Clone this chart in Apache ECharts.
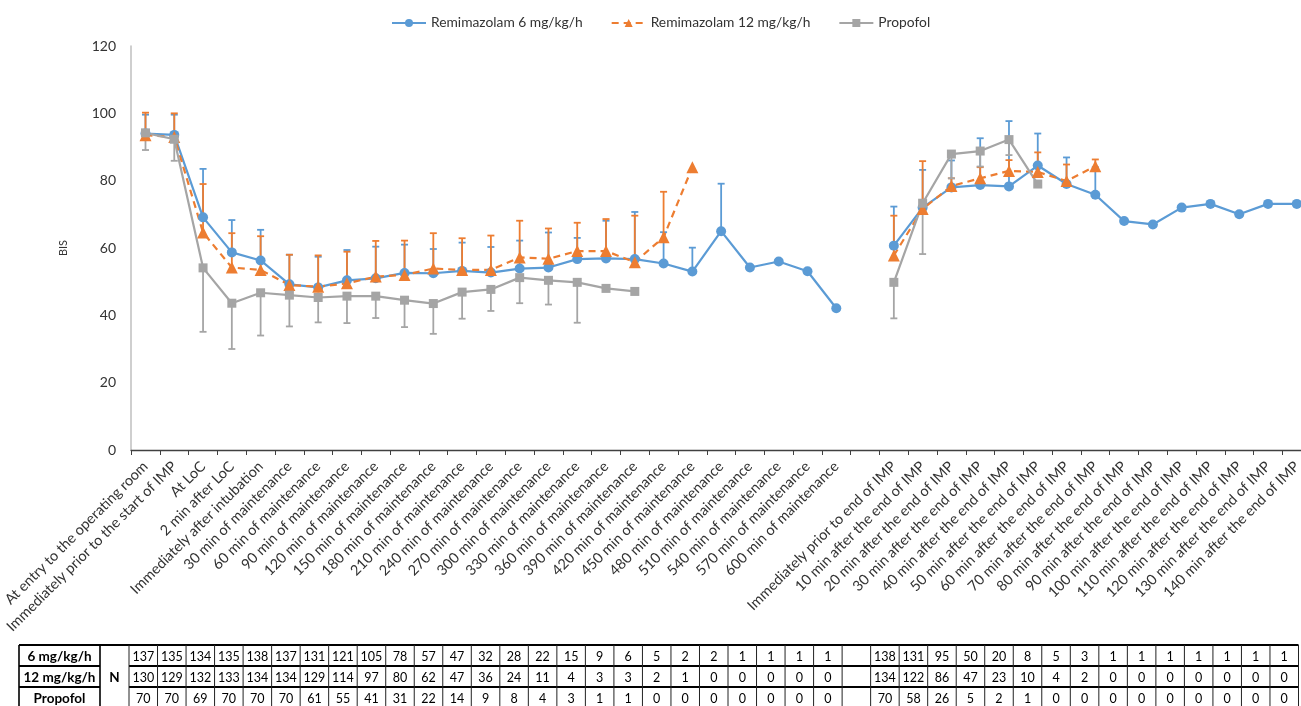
<!DOCTYPE html>
<html>
<head>
<meta charset="utf-8">
<script src="https://cdn.jsdelivr.net/npm/echarts@6/dist/echarts.min.js"></script>
<style>
html,body{margin:0;padding:0;background:#fff;overflow:hidden;}
#chart{width:1320px;height:706px;}
</style>
</head>
<body>
<div id="chart"></div>
<script>
const categories = [
  "At entry to the operating room",
  "Immediately prior to the start of IMP",
  "At LoC",
  "2 min after LoC",
  "Immediately after intubation",
  "30 min of maintenance",
  "60 min of maintenance",
  "90 min of maintenance",
  "120 min of maintenance",
  "150 min of maintenance",
  "180 min of maintenance",
  "210 min of maintenance",
  "240 min of maintenance",
  "270 min of maintenance",
  "300 min of maintenance",
  "330 min of maintenance",
  "360 min of maintenance",
  "390 min of maintenance",
  "420 min of maintenance",
  "450 min of maintenance",
  "480 min of maintenance",
  "510 min of maintenance",
  "540 min of maintenance",
  "570 min of maintenance",
  "600 min of maintenance",
  "",
  "Immediately prior to end of IMP",
  "10 min after the end of IMP",
  "20 min after the end of IMP",
  "30 min after the end of IMP",
  "40 min after the end of IMP",
  "50 min after the end of IMP",
  "60 min after the end of IMP",
  "70 min after the end of IMP",
  "80 min after the end of IMP",
  "90 min after the end of IMP",
  "100 min after the end of IMP",
  "110 min after the end of IMP",
  "120 min after the end of IMP",
  "130 min after the end of IMP",
  "140 min after the end of IMP"
];

const seriesNames = ["Remimazolam 6 mg/kg/h", "Remimazolam 12 mg/kg/h", "Propofol"];

// Mean BIS
const remi6 = [94.0, 93.6, 69.1, 58.7, 56.3, 49.2, 48.3, 50.4, 51.0, 52.6, 52.5, 53.2, 52.7, 53.9, 54.2, 56.7, 56.9, 56.7, 55.4, 53.0, 65.0, 54.2, 56.0, 53.1, 42.1,
  null, 60.7, 72.0, 78.0, 78.7, 78.3, 84.5, 79.0, 75.8, 68.0, 67.0, 72.0, 73.1, 70.0, 73.1, 73.1];
const remi12 = [93.5, 93.0, 64.6, 54.2, 53.5, 49.0, 48.5, 49.5, 51.5, 52.0, 53.9, 53.5, 53.5, 57.2, 56.8, 59.1, 59.1, 55.8, 63.2, 84.0, null, null, null, null, null,
  null, 57.8, 71.6, 78.4, 80.7, 82.9, 82.6, 79.9, 84.3, null, null, null, null, null, null, null];
const propofol = [94.2, 92.3, 54.1, 43.6, 46.7, 46.0, 45.3, 45.7, 45.7, 44.5, 43.5, 46.9, 47.7, 51.2, 50.4, 49.8, 48.0, 47.1, null, null, null, null, null, null, null,
  null, 49.8, 73.3, 87.9, 88.8, 92.2, 79.0, null, null, null, null, null, null, null, null, null];

// Error bar ends (upper for remimazolam, lower for propofol)
const remi6Upper = [99.6, 99.6, 83.5, 68.3, 65.4, 58.0, 57.4, 59.4, 60.4, 61.0, 59.7, 61.6, 60.3, 62.2, 64.6, 63.0, 68.1, 70.7, 64.7, 60.1, 79.1, null, null, null, null,
  null, 72.3, 83.2, 86.0, 92.6, 97.7, 94.0, 86.9, 84.0, null, null, null, null, null, null, null];
const remi12Upper = [100.2, 100.0, 79.0, 64.4, 63.5, 58.0, 57.8, 58.9, 62.1, 62.2, 64.4, 62.9, 63.7, 68.1, 65.8, 67.5, 68.6, 69.6, 76.7, null, null, null, null, null, null,
  null, 69.6, 85.8, 80.7, 84.0, 86.1, 88.4, 84.8, 86.3, null, null, null, null, null, null, null];
const propofolLower = [89.1, 85.9, 35.1, 30.0, 34.0, 36.7, 37.9, 37.7, 39.2, 36.5, 34.5, 39.0, 41.3, 43.6, 43.2, 37.8, null, null, null, null, null, null, null, null, null,
  null, 39.1, 58.2, 80.7, 84.2, 87.6, null, null, null, null, null, null, null, null, null, null];

// N table
const n6 = [137, 135, 134, 135, 138, 137, 131, 121, 105, 78, 57, 47, 32, 28, 22, 15, 9, 6, 5, 2, 2, 1, 1, 1, 1,
  null, 138, 131, 95, 50, 20, 8, 5, 3, 1, 1, 1, 1, 1, 1, 1];
const n12 = [130, 129, 132, 133, 134, 134, 129, 114, 97, 80, 62, 47, 36, 24, 11, 4, 3, 3, 2, 1, 0, 0, 0, 0, 0,
  null, 134, 122, 86, 47, 23, 10, 4, 2, 0, 0, 0, 0, 0, 0, 0];
const nProp = [70, 70, 69, 70, 70, 70, 61, 55, 41, 31, 22, 14, 9, 8, 4, 3, 1, 1, 0, 0, 0, 0, 0, 0, 0,
  null, 70, 58, 26, 5, 2, 1, 0, 0, 0, 0, 0, 0, 0, 0, 0];
const tableRowLabels = ["6 mg/kg/h", "12 mg/kg/h", "Propofol"];

const colors = ["#5B9BD5", "#ED7D31", "#A5A5A5"];
const FONT = "Lato, 'Open Sans', sans-serif";

function errData(mean, end) {
  const out = [];
  for (let i = 0; i < mean.length; i++) {
    if (mean[i] != null && end[i] != null) out.push([i, mean[i], end[i]]);
  }
  return out;
}
function errSeries(name, color, mean, end) {
  return {
    type: 'custom',
    name: name + ' err',
    z: 1,
    silent: true,
    data: errData(mean, end),
    encode: { x: 0, y: [1, 2] },
    renderItem: function (params, api) {
      const p1 = api.coord([api.value(0), api.value(1)]);
      const p2 = api.coord([api.value(0), api.value(2)]);
      const style = { stroke: color, lineWidth: 1.8 };
      return {
        type: 'group',
        children: [
          { type: 'line', shape: { x1: p1[0], y1: p1[1], x2: p2[0], y2: p2[1] }, style: style },
          { type: 'line', shape: { x1: p2[0] - 3.5, y1: p2[1], x2: p2[0] + 3.5, y2: p2[1] }, style: style }
        ]
      };
    }
  };
}

const chart = echarts.init(document.getElementById('chart'), null, { renderer: 'canvas' });
const option = {
  animation: false,
  backgroundColor: '#ffffff',
  textStyle: { fontFamily: FONT },
  legend: {
    data: seriesNames,
    top: 11,
    left: 386,
    itemWidth: 34,
    itemHeight: 10,
    itemGap: 28,
    textStyle: { fontFamily: FONT, fontSize: 13.8, color: '#333' }
  },
  grid: { left: 130.4, top: 46, width: 1180.8, height: 404, containLabel: false },
  xAxis: {
    type: 'category',
    data: categories,
    boundaryGap: true,
    axisLine: { lineStyle: { color: '#404040', width: 1.3 } },
    axisTick: { show: true, length: 5, interval: 0, lineStyle: { color: '#404040' } },
    axisLabel: { interval: 0, rotate: 45, fontSize: 14.5, color: '#333', fontFamily: FONT, margin: 14 }
  },
  yAxis: {
    type: 'value',
    min: 0, max: 120, interval: 20,
    name: 'BIS',
    nameLocation: 'middle',
    nameGap: 62,
    nameTextStyle: { fontSize: 11, color: '#333', fontFamily: FONT },
    axisLine: { show: true, lineStyle: { color: '#BFBFBF', width: 1.5 } },
    axisTick: { show: false },
    splitLine: { show: false },
    axisLabel: { fontSize: 14, color: '#333', fontFamily: FONT, margin: 15 }
  },
  series: [
    errSeries(seriesNames[0], colors[0], remi6, remi6Upper),
    errSeries(seriesNames[1], colors[1], remi12, remi12Upper),
    errSeries(seriesNames[2], colors[2], propofol, propofolLower),
    {
      name: seriesNames[0], type: 'line', data: remi6, z: 3,
      connectNulls: false, symbol: 'circle', symbolSize: 10,
      itemStyle: { color: colors[0] },
      lineStyle: { color: colors[0], width: 2.2 }
    },
    {
      name: seriesNames[1], type: 'line', data: remi12, z: 3,
      connectNulls: false, symbol: 'triangle', symbolSize: 12,
      itemStyle: { color: colors[1] },
      lineStyle: { color: colors[1], width: 2.2, type: [7, 5] }
    },
    {
      name: seriesNames[2], type: 'line', data: propofol, z: 3,
      connectNulls: false, symbol: 'rect', symbolSize: 9,
      itemStyle: { color: colors[2] },
      lineStyle: { color: colors[2], width: 2.2 }
    }
  ]
};
chart.setOption(option);

// N table under the chart (its own column grid, slightly narrower than the plot)
function buildTable() {
  const xStart = 19, xLab = 100, xN = 129, xEnd = 1298.5;
  const cw = (xEnd - xN) / categories.length;
  const top = 645, rh = 21;
  const rows = [n6, n12, nProp];
  const els = [];
  const hStyle = { stroke: '#000', lineWidth: 2 };
  const vStyle = { stroke: '#222', lineWidth: 1 };
  for (let r = 0; r <= 3; r++) {
    const y = top + r * rh;
    if (r === 0 || r === 3) {
      els.push({ type: 'line', shape: { x1: xStart, y1: y, x2: xEnd, y2: y }, style: hStyle });
    } else {
      els.push({ type: 'line', shape: { x1: xStart, y1: y, x2: xLab, y2: y }, style: hStyle });
      els.push({ type: 'line', shape: { x1: xN, y1: y, x2: xEnd, y2: y }, style: hStyle });
    }
  }
  const vx = [xStart, xLab, xN];
  for (let k = 1; k <= categories.length; k++) vx.push(xN + k * cw);
  vx.forEach(function (x, i) {
    els.push({ type: 'line', shape: { x1: x, y1: top, x2: x, y2: top + 3 * rh }, style: i < 2 ? { stroke: '#000', lineWidth: 1.6 } : vStyle });
  });
  tableRowLabels.forEach(function (t, r) {
    els.push({ type: 'text', style: { text: t, x: (xStart + xLab) / 2, y: top + r * rh + rh / 2 + 1, textAlign: 'center', textVerticalAlign: 'middle', align: 'center', verticalAlign: 'middle', font: 'bold 13.5px ' + FONT, fill: '#000' } });
  });
  els.push({ type: 'text', style: { text: 'N', x: (xLab + xN) / 2, y: top + 1.5 * rh + 1, textAlign: 'center', textVerticalAlign: 'middle', align: 'center', verticalAlign: 'middle', font: 'bold 13.5px ' + FONT, fill: '#000' } });
  rows.forEach(function (arr, r) {
    arr.forEach(function (v, k) {
      if (v == null) return;
      els.push({ type: 'text', style: { text: String(v), x: xN + (k + 0.5) * cw, y: top + r * rh + rh / 2 + 1, textAlign: 'center', textVerticalAlign: 'middle', align: 'center', verticalAlign: 'middle', font: '12.5px ' + FONT, fill: '#000' } });
    });
  });
  chart.setOption({ graphic: [{ type: 'group', silent: true, children: els }] });
}
buildTable();
</script>
</body>
</html>
